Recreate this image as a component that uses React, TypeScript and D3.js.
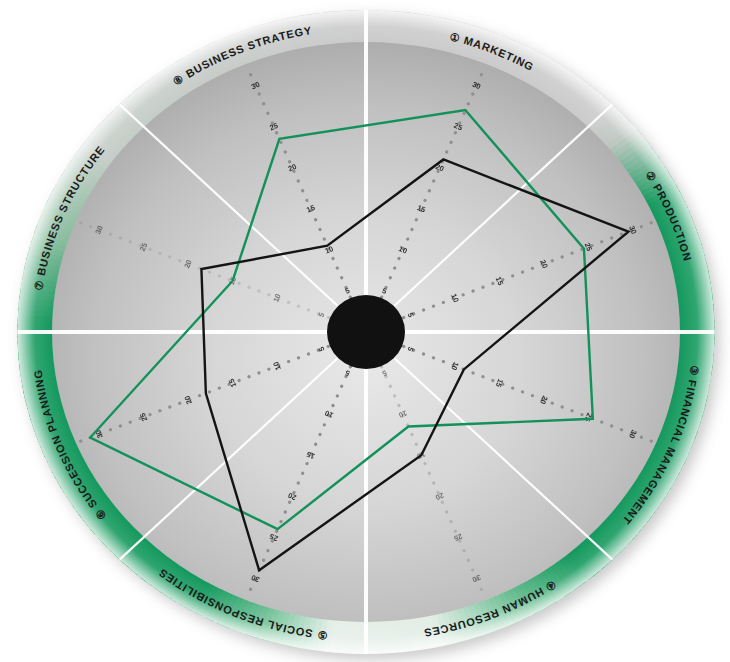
import React from 'react';
import * as d3 from 'd3';

// ---------- data ----------
const categories = [
  'MARKETING',
  'PRODUCTION',
  'FINANCIAL MANAGEMENT',
  'HUMAN RESOURCES',
  'SOCIAL RESPONSIBILITIES',
  'SUCCESSION PLANNING',
  'BUSINESS STRUCTURE',
  'BUSINESS STRATEGY',
];
const categoryNumbers = ['①', '②', '③', '④', '⑤', '⑥', '⑦', '⑧'];
const greenSeries = [27, 24.5, 25.5, 11.5, 24, 31, 15, 23.5];
const blackSeries = [21, 29.5, 11, 15, 29, 18, 18.5, 10.5];
const tickValues = [5, 10, 15, 20, 25, 30];
const tickLabels = ['5', '10', '15', '20', '25', '30'];

// ---------- style / layout ----------
const W = 730;
const H = 662;
const CX = 366;
const CY = 332;
const SX = 314;
const SY = 290;
const RING = 1.11;
const axisDotOpacity = [1, 1, 1, 0.45, 1, 1, 0.35, 1];

const GREEN = '#14995d';
const GRAY = '#cbcbcb';

const rScale = d3.scaleLinear().domain([0, 30]).range([0, 0.92]);
const band = d3.scaleBand<string>().domain(categories).range([0, 360]);
const angleOf = (c: string) => (band(c) as number) + band.bandwidth() / 2;

const pt = (deg: number, r: number): [number, number] => {
  const a = (deg * Math.PI) / 180;
  return [CX + SX * r * Math.sin(a), CY - SY * r * Math.cos(a)];
};

const ringColor = d3
  .scaleLinear<string>()
  .domain([0, 45, 50, 64, 140, 152, 168, 186, 198, 210, 272, 288, 306, 360])
  .range([
    GRAY, GRAY, '#bfc7c1', GREEN, GREEN, '#5fb98a', '#e2eee6', '#e6efe9',
    '#6fc196', GREEN, GREEN, '#86bb9c', '#c4cdc7', GRAY,
  ])
  .interpolate(d3.interpolateRgb);

const TRX = 327;
const TRY = 302;
function arcLength(deg: number) {
  const n = 3000;
  const t1 = (deg * Math.PI) / 180;
  let s = 0;
  for (let i = 0; i < n; i++) {
    const t = ((i + 0.5) / n) * t1;
    s += Math.hypot(TRX * Math.cos(t), TRY * Math.sin(t)) * (t1 / n);
  }
  return s;
}

export default function App() {
  const arcGen = d3.arc<any>();
  const slices = d3.range(0, 360, 1).map((deg) => ({
    d: arcGen({
      innerRadius: 0.995,
      outerRadius: RING,
      startAngle: (deg * Math.PI) / 180,
      endAngle: ((deg + 1.3) * Math.PI) / 180,
    }) as string,
    fill: ringColor(deg + 0.5),
  }));

  const lineGen = d3.line<[number, number]>().curve(d3.curveLinearClosed);
  const greenPts = categories.map((c, i) => pt(angleOf(c), rScale(greenSeries[i])));
  const blackPts = categories.map((c, i) => pt(angleOf(c), rScale(blackSeries[i])));

  const half = `A ${TRX} ${TRY} 0 0 1 ${CX} ${CY + TRY} A ${TRX} ${TRY} 0 0 1 ${CX} ${CY - TRY}`;
  const labelPath = `M ${CX} ${CY - TRY} ${half} ${half}`;

  return (
    <svg
      width={W}
      height={H}
      style={{ position: 'absolute', left: 0, top: 0, background: '#fff' }}
      xmlns="http://www.w3.org/2000/svg"
    >
      <defs>
        <filter id="blur" x="-20%" y="-20%" width="140%" height="140%">
          <feGaussianBlur stdDeviation="7" />
        </filter>
        <radialGradient id="discGrad" cx="0.5" cy="0.55" r="0.55">
          <stop offset="0" stopColor="#e8e8e8" />
          <stop offset="0.45" stopColor="#d6d6d6" />
          <stop offset="0.8" stopColor="#c0c0c0" />
          <stop offset="1" stopColor="#adadad" />
        </radialGradient>
        <radialGradient id="ringFade" gradientUnits="userSpaceOnUse" cx="0" cy="0" r={RING}>
          <stop offset={1 / RING} stopColor="#fff" stopOpacity="0" />
          <stop offset="0.95" stopColor="#fff" stopOpacity="0.12" />
          <stop offset="1" stopColor="#fff" stopOpacity="0.8" />
        </radialGradient>
        <path id="labelPath" d={labelPath} />
      </defs>

      {/* soft shadow */}
      <ellipse
        cx={CX + 5}
        cy={CY + 6}
        rx={SX * RING}
        ry={SY * RING}
        fill="#8a8a8a"
        opacity={0.45}
        filter="url(#blur)"
      />

      {/* ring + disc in normalised space */}
      <g transform={`translate(${CX},${CY}) scale(${SX},${SY})`}>
        {slices.map((s, i) => (
          <path key={i} d={s.d} fill={s.fill} />
        ))}
        <ellipse cx={0} cy={0} rx={RING} ry={RING} fill="url(#ringFade)" />
        <ellipse cx={0} cy={0} rx={1} ry={1} fill="url(#discGrad)" />
      </g>

      {/* sector separators */}
      {d3.range(0, 360, 45).map((deg) => {
        const [x2, y2] = pt(deg, RING);
        return (
          <line
            key={deg}
            x1={CX}
            y1={CY}
            x2={x2}
            y2={y2}
            stroke="#fff"
            strokeOpacity={0.95}
            strokeWidth={deg % 90 === 0 ? 4 : 2.2}
          />
        );
      })}

      {/* dotted axes */}
      {categories.map((c, i) => {
        const a = angleOf(c);
        const [x1, y1] = pt(a, 0.13);
        const [x2, y2] = pt(a, 0.99);
        return (
          <line
            key={c}
            x1={x1}
            y1={y1}
            x2={x2}
            y2={y2}
            stroke="#8f8f8f"
            strokeWidth={3.2}
            strokeLinecap="round"
            strokeDasharray="0.1 10.5"
            opacity={axisDotOpacity[i]}
          />
        );
      })}

      {/* tick labels */}
      {categories.map((c, i) =>
        tickValues.map((v, j) => {
          const a = angleOf(c);
          const [x, y] = pt(a, rScale(v));
          return (
            <text
              key={`${c}-${v}`}
              x={x}
              y={y}
              transform={`rotate(${a} ${x} ${y})`}
              textAnchor="middle"
              dominantBaseline="central"
              fontFamily="'Liberation Sans', Arial, sans-serif"
              fontWeight="bold"
              fontSize={7.5}
              fill="#222"
              opacity={axisDotOpacity[i] < 1 ? 0.55 : 0.9}
            >
              {tickLabels[j]}
            </text>
          );
        })
      )}

      {/* series */}
      <path d={lineGen(greenPts) as string} fill="none" stroke="#12925a" strokeWidth={2.4} strokeLinejoin="miter" />
      <path d={lineGen(blackPts) as string} fill="none" stroke="#141414" strokeWidth={2.4} strokeLinejoin="miter" />

      {/* central hub */}
      <ellipse cx={CX} cy={CY} rx={39} ry={37} fill="#111" />

      {/* category labels along the ring */}
      {categories.map((c, i) => (
        <text
          key={c}
          fontFamily="'Liberation Sans', Arial, sans-serif"
          fontWeight="bold"
          fontSize={11}
          letterSpacing={0.8}
          fill="#1a1a1a"
        >
          <textPath href="#labelPath" startOffset={arcLength(angleOf(c))} textAnchor="middle">
            {`${categoryNumbers[i]} ${c}`}
          </textPath>
        </text>
      ))}
    </svg>
  );
}
